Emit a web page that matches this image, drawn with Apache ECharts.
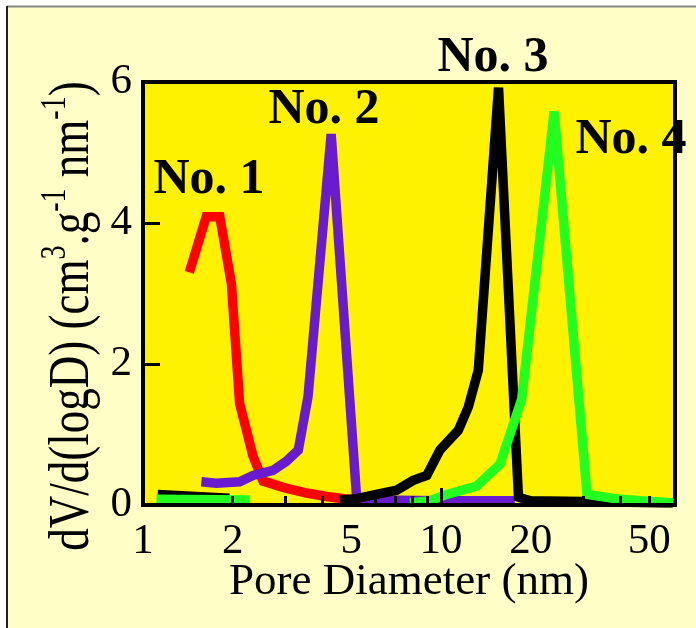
<!DOCTYPE html>
<html>
<head>
<meta charset="utf-8">
<script src="https://cdn.jsdelivr.net/npm/echarts@6/dist/echarts.min.js"></script>
<style>
html,body{margin:0;padding:0;background:#fff;}
#chart{width:696px;height:628px;}
</style>
</head>
<body>
<div id="chart"></div>
<script>
// ---- data ----
const seriesNames = ['No. 1', 'No. 2', 'No. 3', 'No. 4'];
const xLabelValues = [1, 2, 5, 10, 20, 50];
const xTickValues = [2, 3, 4, 5, 6, 7, 8, 9, 20, 30, 40, 50];
const xMajorTickValues = [10];
// '-' marks a gap where the curve is hidden under the axis / other curves
const no1 = [[1.43,3.30],[1.63,4.09],[1.81,4.09],[1.98,3.14],[2.11,1.44],[2.34,0.69],[2.53,0.34],[2.95,0.25],[3.54,0.17],[4.13,0.12],[4.58,0.095],[5.5,0.05]];
const no2 = [[1.57,0.33],[1.76,0.31],[2.11,0.33],[2.34,0.42],[2.73,0.49],[3.03,0.62],[3.32,0.78],[3.58,1.54],[4.28,5.26],[5.21,0.11],[6,0.07],[10,0.06],[17.7,0.06]];
const no3 = [[1.12,0.15],[1.5,0.12],[1.95,0.095],[3,'-'],[4.58,0.07],[5.2,0.09],[6.24,0.16],[7.1,0.21],[8.07,0.35],[8.96,0.42],[9.92,0.78],[11.43,1.06],[12.35,1.39],[13.34,1.91],[15.6,5.92],[18.2,0.11],[20,0.06],[30,0.05],[60,0.03]];
const no4 = [[1.11,0.08],[2.28,0.07],[4,'-'],[7.87,0.03],[9.18,0.06],[10.45,0.15],[13.18,0.27],[15.78,0.58],[18.66,1.5],[23.97,5.58],[30.9,0.15],[39.9,0.08],[60.3,0.03]];
const seriesData = [no1, no2, no3, no4];
const seriesColors = ['#ff0000', '#6a1bd0', '#000000', '#22ff1e'];

const FONT = '"Liberation Serif", "Times New Roman", serif';

const chart = echarts.init(document.getElementById('chart'), null, {renderer: 'canvas'});
const option = {
  backgroundColor: '#ffffff',
  animation: false,
  grid: {
    left: 143, top: 82, right: 21, bottom: 123,
    show: true, backgroundColor: '#fef200', borderColor: '#000', borderWidth: 4
  },
  xAxis: [
    {
      type: 'log', logBase: 10, min: 1, max: 61, position: 'bottom', z: 10,
      axisLine: {show: true, lineStyle: {color: '#000', width: 4}},
      axisTick: {show: true, inside: true, length: 9, lineStyle: {color: '#000', width: 3}, customValues: xTickValues},
      axisLabel: {show: true, customValues: xLabelValues, fontSize: 43, fontFamily: FONT, color: '#000', margin: 15},
      splitLine: {show: false}, minorTick: {show: false}
    },
    {
      type: 'log', logBase: 10, min: 1, max: 61, position: 'bottom', z: 10,
      axisLine: {show: false},
      axisTick: {show: true, inside: true, length: 17, lineStyle: {color: '#000', width: 3}, customValues: xMajorTickValues},
      axisLabel: {show: false},
      splitLine: {show: false}
    }
  ],
  yAxis: {
    type: 'value', min: 0, max: 6, interval: 2, z: 10,
    axisLine: {show: true, lineStyle: {color: '#000', width: 4}},
    axisTick: {show: true, inside: true, length: 17, lineStyle: {color: '#000', width: 3}},
    axisLabel: {fontSize: 43, fontFamily: FONT, color: '#000', margin: 11},
    splitLine: {show: false}
  },
  series: seriesNames.map((n, i) => ({
    name: n, type: 'line', xAxisIndex: 0, data: seriesData[i],
    showSymbol: false, symbol: 'none', clip: true, connectNulls: false,
    lineStyle: {color: seriesColors[i], width: 9.5, join: 'miter', cap: 'butt'},
    z: 2 + i
  })),
  graphic: [
    {type: 'rect', z: -10, silent: true, shape: {x: 7, y: 7, width: 700, height: 640},
     style: {fill: '#fffec6', stroke: null}},
    {type: 'line', z: -9, shape: {x1: 7, y1: 6.5, x2: 696, y2: 6.5}, style: {stroke: '#888', lineWidth: 2}},
    {type: 'line', z: -9, shape: {x1: 7, y1: 6, x2: 7, y2: 628}, style: {stroke: '#222', lineWidth: 2}},
    {type: 'text', z: 20, x: 209, y: 180, style: {text: seriesNames[0], font: 'bold 50px ' + FONT, fill: '#000', align: 'center', verticalAlign: 'middle'}},
    {type: 'text', z: 20, x: 324, y: 110, style: {text: seriesNames[1], font: 'bold 50px ' + FONT, fill: '#000', align: 'center', verticalAlign: 'middle'}},
    {type: 'text', z: 20, x: 493, y: 58, style: {text: seriesNames[2], font: 'bold 50px ' + FONT, fill: '#000', align: 'center', verticalAlign: 'middle'}},
    {type: 'text', z: 20, x: 631, y: 140, style: {text: seriesNames[3], font: 'bold 50px ' + FONT, fill: '#000', align: 'center', verticalAlign: 'middle'}},
    {type: 'text', z: 20, x: 409, y: 582, style: {text: 'Pore Diameter (nm)', font: '45px ' + FONT, fill: '#000', align: 'center', verticalAlign: 'middle'}},
    {type: 'text', z: 20, x: 70, y: 316, rotation: Math.PI / 2, scaleY: 1.25,
     style: {
       text: '{m|dV/d(logD) (cm}{s|3}{m|.g}{s|-1}{m| nm}{s|-1}{m|)}',
       fill: '#000', align: 'center', verticalAlign: 'middle',
       rich: {
         m: {fontSize: 45, fontFamily: FONT, lineHeight: 50, verticalAlign: 'bottom', fill: '#000'},
         s: {fontSize: 28, fontFamily: FONT, lineHeight: 28, verticalAlign: 'top', fill: '#000'}
       }
     }}
  ]
};
chart.setOption(option);
</script>
</body>
</html>
